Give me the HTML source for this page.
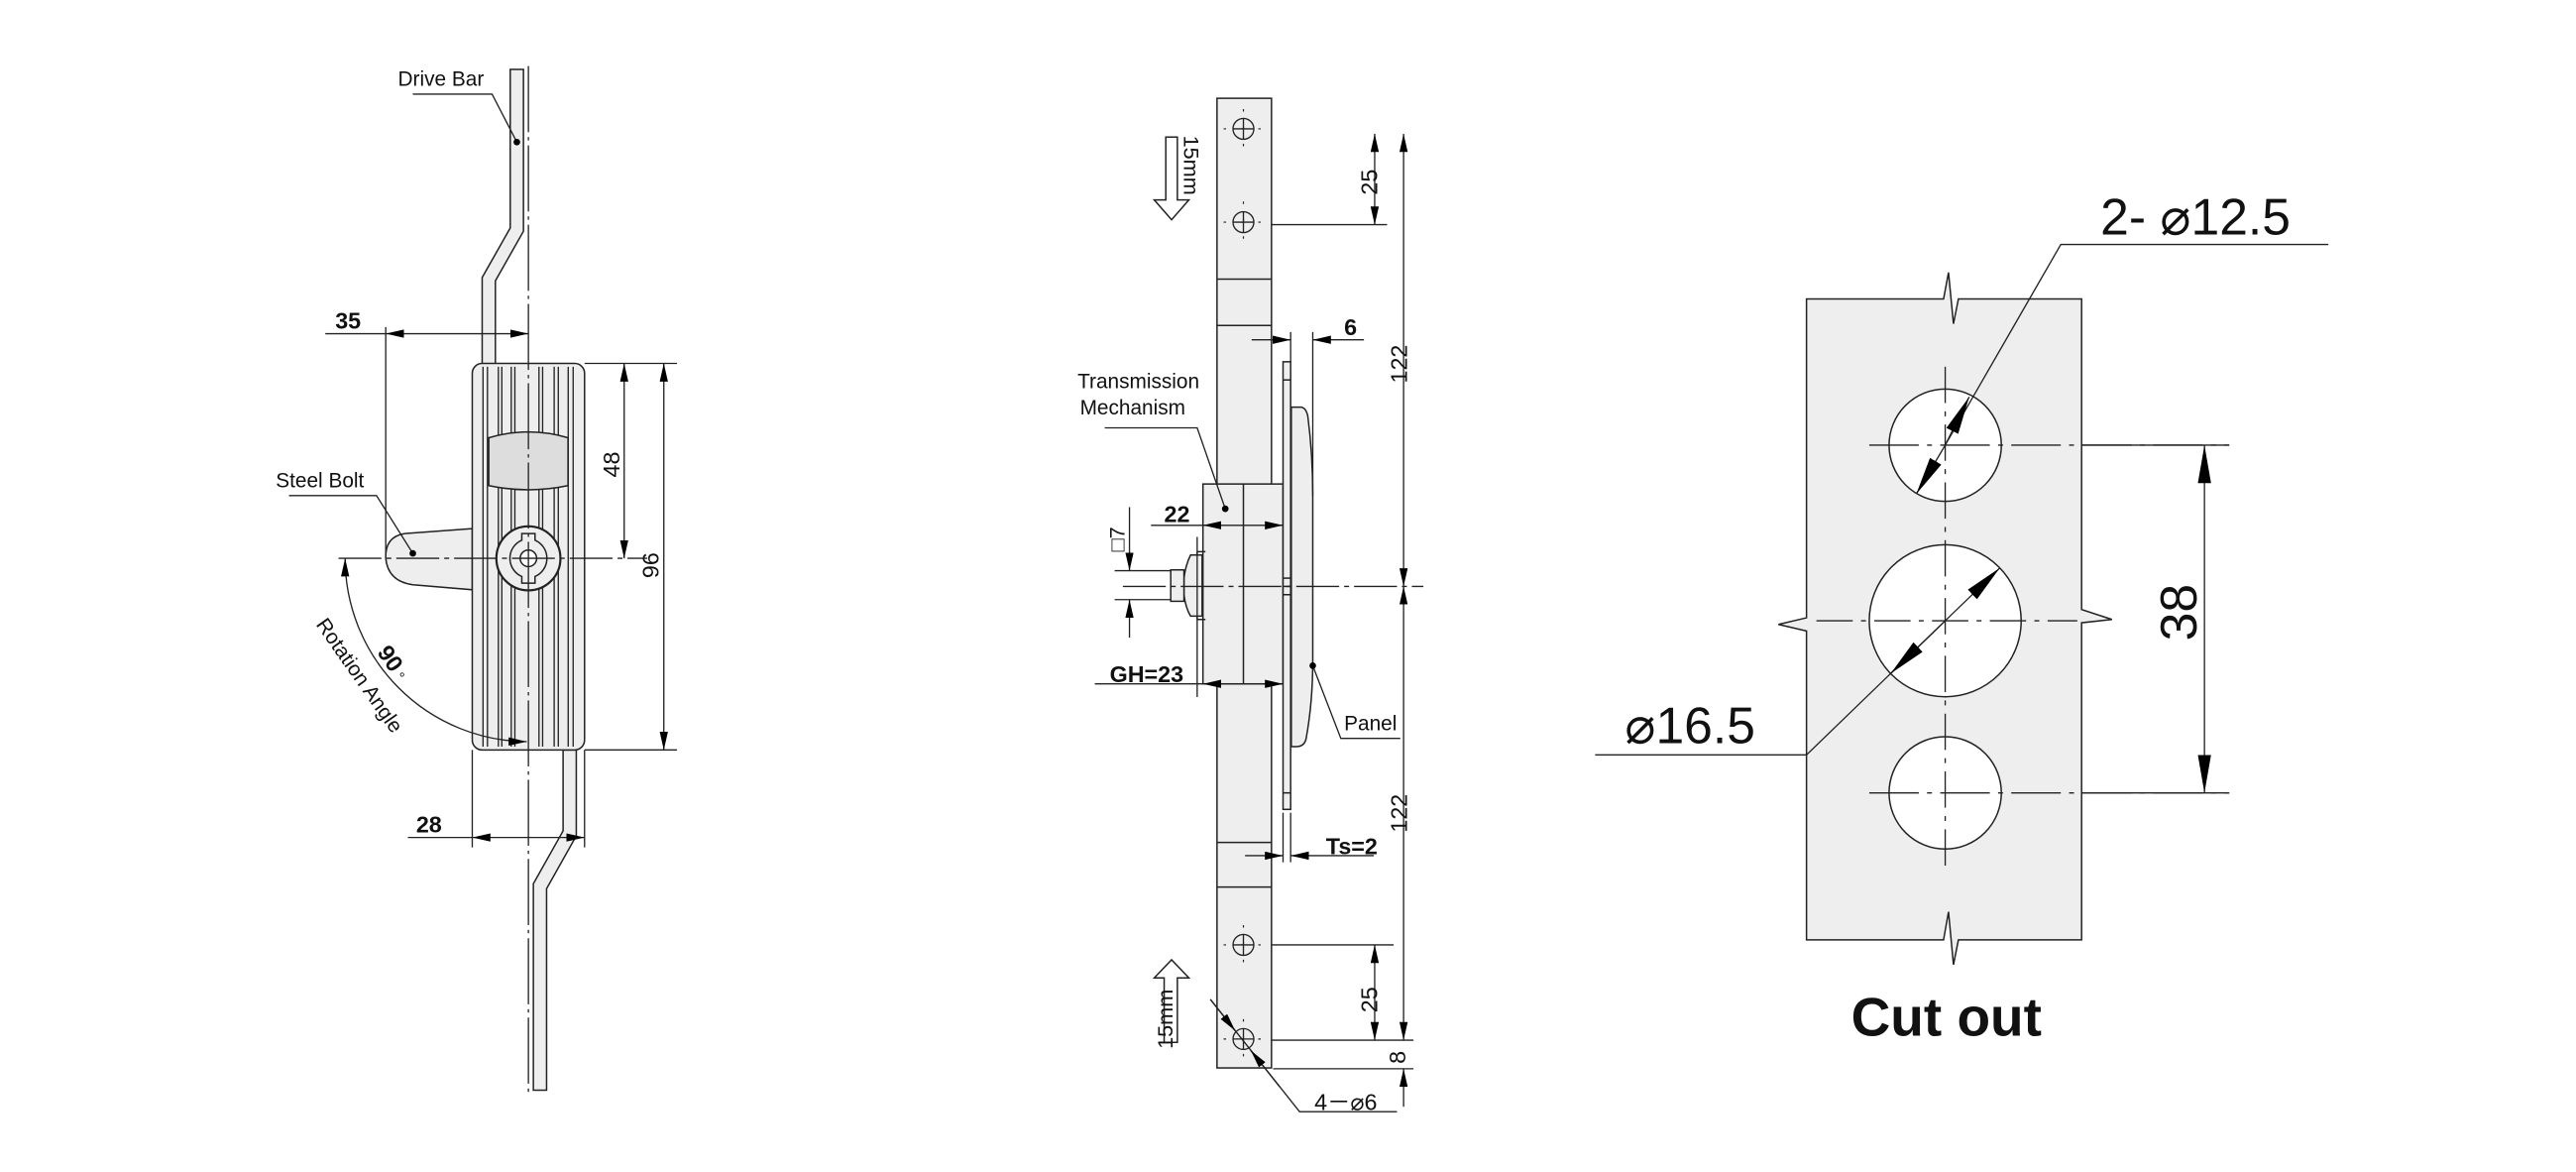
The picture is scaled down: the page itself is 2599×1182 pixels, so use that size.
<!DOCTYPE html>
<html><head><meta charset="utf-8"><style>
html,body{margin:0;padding:0;background:#fff;}
svg{display:block;}
text{font-family:"Liberation Sans",sans-serif;fill:#111;}
</style></head><body>
<svg width="2599" height="1182" viewBox="0 0 1560 709.5" preserveAspectRatio="none" xmlns="http://www.w3.org/2000/svg">
<defs>
<marker id="a" markerUnits="userSpaceOnUse" markerWidth="12" markerHeight="6" refX="11" refY="2.5" orient="auto-start-reverse"><path d="M0,0 L11,2.5 L0,5 Z" fill="#000"/></marker>
<marker id="b" markerUnits="userSpaceOnUse" markerWidth="24" markerHeight="9" refX="23" refY="4" orient="auto-start-reverse"><path d="M0,0 L23,4 L0,8 Z" fill="#000"/></marker>
</defs>
<rect width="1560" height="709.5" fill="#fff"/>

<!-- ================= LEFT ================= -->
<g stroke="#222" stroke-width="0.9" fill="none">
<polygon points="309,42 317,42 317,140 300,170 300,221 292,221 292,168 309,138" fill="#eee"/>
<polygon points="341,454 349,454 349,506 331,538 331,660 323,660 323,535 341,503" fill="#eee"/>
<path d="M286,320 L245,323 Q233,325 233.6,338 Q235,352 250,354 L286,357 Z" fill="#eee"/>
<rect x="286" y="220" width="68" height="234" rx="6" fill="#eee"/>
<g stroke-width="0.8">
<line x1="292.5" y1="222" x2="292.5" y2="452"/><line x1="295.2" y1="222" x2="295.2" y2="452"/>
<line x1="301.8" y1="222" x2="301.8" y2="452"/><line x1="303.9" y1="222" x2="303.9" y2="452"/>
<line x1="309.6" y1="222" x2="309.6" y2="452"/><line x1="311.8" y1="222" x2="311.8" y2="452"/>
<line x1="326.4" y1="222" x2="326.4" y2="452"/><line x1="328.6" y1="222" x2="328.6" y2="452"/>
<line x1="335.6" y1="222" x2="335.6" y2="452"/><line x1="338.1" y1="222" x2="338.1" y2="452"/>
<line x1="344.1" y1="222" x2="344.1" y2="452"/><line x1="347.1" y1="222" x2="347.1" y2="452"/>
</g>
<path d="M296,265 Q320,258 344,265 L344,294 Q320,299 296,294 Z" fill="#ddd"/>
<circle cx="320" cy="338" r="19.4" fill="#eee" stroke-width="1.3"/>
<path d="M316,327 L316,323 L324,323 L324,327 A12,12 0 0 1 324,349 L324,353 L316,353 L316,349 A12,12 0 0 1 316,327 Z" fill="#eee"/>
<circle cx="320" cy="338" r="5" fill="#fff"/>
<line x1="320" y1="40" x2="320" y2="662" stroke-dasharray="40,3,2,3" stroke-width="0.8"/>
<line x1="205" y1="338" x2="392" y2="338" stroke-dasharray="26,3,3,3" stroke-width="0.8"/>
<!-- 35 -->
<line x1="197" y1="202" x2="233.6" y2="202" stroke-width="0.8"/>
<line x1="233.6" y1="202" x2="320" y2="202" marker-start="url(#a)" marker-end="url(#a)" stroke-width="0.8"/>
<line x1="233.6" y1="198" x2="233.6" y2="336" stroke-width="0.8"/>
<!-- 48/96 -->
<line x1="354" y1="220" x2="410" y2="220" stroke-width="0.8"/>
<line x1="354" y1="454" x2="410" y2="454" stroke-width="0.8"/>
<line x1="378" y1="220" x2="378" y2="338" marker-start="url(#a)" marker-end="url(#a)" stroke-width="0.8"/>
<line x1="402" y1="220" x2="402" y2="454" marker-start="url(#a)" marker-end="url(#a)" stroke-width="0.8"/>
<!-- 28 -->
<line x1="247" y1="507" x2="286" y2="507" stroke-width="0.8"/>
<line x1="286" y1="507" x2="354" y2="507" marker-start="url(#a)" marker-end="url(#a)" stroke-width="0.8"/>
<line x1="286" y1="454" x2="286" y2="513" stroke-width="0.8"/>
<line x1="354" y1="454" x2="354" y2="513" stroke-width="0.8"/>
<!-- arc -->
<path d="M209,338 A111,111 0 0 0 319,449" marker-start="url(#a)" marker-end="url(#a)" stroke-width="0.8"/>
<!-- leaders -->
<polyline points="250,57 298,57 313,86" stroke-width="0.8"/>
<polyline points="175,300 228,300 250,335" stroke-width="0.8"/>
</g>
<circle cx="313" cy="86" r="2" fill="#000"/>
<circle cx="250" cy="335" r="2" fill="#000"/>
<text x="241" y="52" font-size="12.5">Drive Bar</text>
<text x="167" y="295" font-size="12.5">Steel Bolt</text>
<text x="203" y="199" font-size="14" font-weight="bold">35</text>
<text x="252" y="504" font-size="14" font-weight="bold">28</text>
<text transform="translate(375,289) rotate(-90)" font-size="14">48</text>
<text transform="translate(399,350) rotate(-90)" font-size="14">96</text>
<text transform="translate(228,395) rotate(55)" font-size="14" font-weight="bold">90<tspan font-size="9" font-weight="normal"> °</tspan></text>
<text transform="translate(191,378) rotate(55)" font-size="12.5">Rotation Angle</text>

<!-- ================= MIDDLE ================= -->
<g stroke="#222" stroke-width="0.9" fill="none">
<rect x="737" y="59.5" width="33" height="587" fill="#eee"/>
<line x1="737" y1="169" x2="770" y2="169"/><line x1="737" y1="197" x2="770" y2="197"/>
<line x1="737" y1="510" x2="770" y2="510"/><line x1="737" y1="537" x2="770" y2="537"/>
<g stroke-width="0.8">
<circle cx="753" cy="78" r="6.3"/><line x1="746.7" y1="78" x2="759.3" y2="78"/><line x1="753" y1="71.7" x2="753" y2="84.3"/>
<circle cx="753" cy="134.5" r="6.3"/><line x1="746.7" y1="134.5" x2="759.3" y2="134.5"/><line x1="753" y1="128" x2="753" y2="141"/>
<circle cx="753" cy="572" r="6.3"/><line x1="746.7" y1="572" x2="759.3" y2="572"/><line x1="753" y1="565.7" x2="753" y2="578.3"/>
<circle cx="753" cy="629" r="6.3"/><line x1="746.7" y1="629" x2="759.3" y2="629"/><line x1="753" y1="622.7" x2="753" y2="635.3"/>
</g>
<g stroke-width="0.7" stroke-dasharray="1.5,9">
<line x1="741" y1="78" x2="767" y2="78"/><line x1="753" y1="66" x2="753" y2="90"/>
<line x1="741" y1="134.5" x2="767" y2="134.5"/><line x1="753" y1="122" x2="753" y2="147"/>
<line x1="741" y1="572" x2="767" y2="572"/><line x1="753" y1="560" x2="753" y2="584"/>
<line x1="741" y1="629" x2="767" y2="629"/><line x1="753" y1="617" x2="753" y2="641"/>
</g>
<rect x="728.5" y="293" width="48.5" height="121" fill="#eee"/>
<line x1="753" y1="293" x2="753" y2="414"/>
<path d="M782,246.5 L788,246.5 Q791,247 792,252 Q795,275 795,300 L795,400 Q795,425 791,447 Q790,452 785,452 L782,452 Z" fill="#eee"/>
<rect x="777" y="219" width="4.6" height="271" fill="#eee"/>
<line x1="777" y1="230" x2="781.6" y2="230"/><line x1="777" y1="480" x2="781.6" y2="480"/>
<line x1="777" y1="350" x2="781.6" y2="350"/><line x1="777" y1="355" x2="781.6" y2="355"/><line x1="777" y1="360" x2="781.6" y2="360"/>
<path d="M725,334 L725,375 M725,334 L730,334 M725,375 L730,375" />
<path d="M728,336 L721,336 Q718,342 717,350 L717,360 Q718,368 721,373 L728,373 Z" fill="#eee"/>
<rect x="709" y="345" width="8" height="19" fill="#eee"/>
<line x1="725" y1="325" x2="725" y2="422" stroke-width="0.8"/>
<line x1="680" y1="355" x2="862" y2="355" stroke-dasharray="26,3,3,3" stroke-width="0.8"/>
<!-- 122 -->
<line x1="850" y1="81" x2="850" y2="355" marker-start="url(#a)" marker-end="url(#a)" stroke-width="0.8"/>
<line x1="850" y1="355" x2="850" y2="629.7" marker-start="url(#a)" marker-end="url(#a)" stroke-width="0.8"/>
<line x1="850" y1="647" x2="850" y2="670" marker-start="url(#a)" stroke-width="0.8"/>
<!-- 25 -->
<line x1="832.5" y1="81" x2="832.5" y2="136" marker-start="url(#a)" marker-end="url(#a)" stroke-width="0.8"/>
<line x1="770" y1="136" x2="840" y2="136" stroke-width="0.8"/>
<line x1="832.5" y1="572" x2="832.5" y2="629.7" marker-start="url(#a)" marker-end="url(#a)" stroke-width="0.8"/>
<line x1="770" y1="572" x2="844" y2="572" stroke-width="0.8"/>
<line x1="770" y1="629.7" x2="856" y2="629.7" stroke-width="0.8"/>
<line x1="771" y1="647" x2="856" y2="647" stroke-width="0.8"/>
<!-- 6 -->
<line x1="758" y1="205.7" x2="781.6" y2="205.7" marker-end="url(#a)" stroke-width="0.8"/>
<line x1="826" y1="205.7" x2="795" y2="205.7" marker-end="url(#a)" stroke-width="0.8"/>
<line x1="781.6" y1="201" x2="781.6" y2="219" stroke-width="0.8"/>
<line x1="795" y1="201" x2="795" y2="300" stroke-width="0.8"/>
<!-- Ts=2 -->
<line x1="754" y1="518" x2="777" y2="518" marker-end="url(#a)" stroke-width="0.8"/>
<line x1="832" y1="518" x2="781.6" y2="518" marker-end="url(#a)" stroke-width="0.8"/>
<line x1="777" y1="492" x2="777" y2="522" stroke-width="0.8"/>
<line x1="781.6" y1="492" x2="781.6" y2="522" stroke-width="0.8"/>
<!-- 22 -->
<line x1="697" y1="318" x2="728.5" y2="318" stroke-width="0.8"/>
<line x1="728.5" y1="318" x2="777" y2="318" marker-start="url(#a)" marker-end="url(#a)" stroke-width="0.8"/>
<!-- GH -->
<line x1="663" y1="414" x2="728.5" y2="414" stroke-width="0.8"/>
<line x1="728.5" y1="414" x2="777" y2="414" marker-start="url(#a)" marker-end="url(#a)" stroke-width="0.8"/>
<!-- square 7 -->
<line x1="675" y1="345.5" x2="709" y2="345.5" stroke-width="0.8"/>
<line x1="675" y1="363" x2="709" y2="363" stroke-width="0.8"/>
<line x1="684" y1="307" x2="684" y2="345.5" marker-end="url(#a)" stroke-width="0.8"/>
<line x1="684" y1="386" x2="684" y2="363" marker-end="url(#a)" stroke-width="0.8"/>
<!-- 15mm arrows -->
<path d="M706,83 L713,83 L713,121 L720,121 L709.5,133 L699,121 L706,121 Z" fill="#fff"/>
<path d="M705,631 L713,631 L713,592 L720,592 L709.5,581 L699,592 L705,592 Z" fill="#fff"/>
<!-- 4-phi6 -->
<polyline points="733,605 787,673 846,673" stroke-width="0.8"/>
<line x1="733" y1="605" x2="748" y2="624" marker-end="url(#a)" stroke-width="0.8"/>
<line x1="775" y1="658" x2="757.5" y2="636" marker-end="url(#a)" stroke-width="0.8"/>
<!-- leaders -->
<polyline points="669,259 725,259 742,308" stroke-width="0.8"/>
<polyline points="795,403 812,447 848,447" stroke-width="0.8"/>
</g>
<circle cx="742" cy="308" r="2" fill="#000"/>
<circle cx="795" cy="403" r="2" fill="#000"/>
<text x="652.5" y="235" font-size="12.5">Transmission</text>
<text x="654" y="251" font-size="12.5">Mechanism</text>
<text x="814" y="442" font-size="12.5">Panel</text>
<text x="705" y="316" font-size="14" font-weight="bold">22</text>
<text x="672" y="413" font-size="14" font-weight="bold">GH=23</text>
<text x="803" y="517" font-size="14" font-weight="bold">Ts=2</text>
<text x="814" y="203" font-size="14" font-weight="bold">6</text>
<text x="796" y="672" font-size="14">4－⌀6</text>
<text transform="translate(681,334) rotate(-90)" font-size="13">□7</text>
<text transform="translate(852,232) rotate(-90)" font-size="14">122</text>
<text transform="translate(852,504) rotate(-90)" font-size="14">122</text>
<text transform="translate(834,118) rotate(-90)" font-size="14">25</text>
<text transform="translate(834,613) rotate(-90)" font-size="14">25</text>
<text transform="translate(851,644) rotate(-90)" font-size="14">8</text>
<text transform="translate(717,82) rotate(90)" font-size="13">15mm</text>
<text transform="translate(710,635) rotate(-90)" font-size="13">15mm</text>

<!-- ================= RIGHT ================= -->
<g stroke="#222" stroke-width="0.9" fill="none">
<path d="M1094,181 L1177,181 L1180,165 L1183,196 L1186,181 L1260.6,181 L1260.6,369 L1279,375 L1260.6,377 L1260.6,569 L1186,569 L1183,584 L1180,552 L1177,569 L1094,569 L1094,382 L1077,378 L1094,374 Z" fill="#eee"/>
<circle cx="1178" cy="269.5" r="34" fill="#fff"/>
<circle cx="1178" cy="375.8" r="46" fill="#fff"/>
<circle cx="1178" cy="480" r="34" fill="#fff"/>
<g stroke-width="0.8" stroke-dasharray="30,5,3,5">
<line x1="1132" y1="269.5" x2="1350" y2="269.5"/>
<line x1="1132" y1="480" x2="1350" y2="480"/>
</g>
<g stroke-width="0.8" stroke-dasharray="22,5,3,5">
<line x1="1100" y1="375.8" x2="1258" y2="375.8"/>
<line x1="1178" y1="222" x2="1178" y2="528"/>
</g>
<line x1="1260.6" y1="269.5" x2="1350" y2="269.5" stroke-width="0.8"/>
<line x1="1260.6" y1="480" x2="1350" y2="480" stroke-width="0.8"/>
<line x1="1335" y1="269.5" x2="1335" y2="480" marker-start="url(#b)" marker-end="url(#b)" stroke-width="0.8"/>
<!-- 12.5 -->
<polyline points="1410,148 1248,148 1178,269.5" stroke-width="0.8"/>
<line x1="1178" y1="269.5" x2="1192.5" y2="240.3" marker-end="url(#b)" stroke-width="0.8"/>
<line x1="1178" y1="269.5" x2="1160.5" y2="299" marker-end="url(#b)" stroke-width="0.8"/>
<!-- 16.5 -->
<polyline points="966,457 1094,457 1178,375.8" stroke-width="0.8"/>
<line x1="1178" y1="375.8" x2="1211" y2="343.9" marker-end="url(#b)" stroke-width="0.8"/>
<line x1="1178" y1="375.8" x2="1145" y2="407.7" marker-end="url(#b)" stroke-width="0.8"/>
</g>
<text x="1272" y="142" font-size="31">2- ⌀12.5</text>
<text x="984" y="450" font-size="31">⌀16.5</text>
<text transform="translate(1330,388) rotate(-90)" font-size="31">38</text>
<text x="1121" y="627" font-size="33" font-weight="bold">Cut out</text>
</svg>
</body></html>
